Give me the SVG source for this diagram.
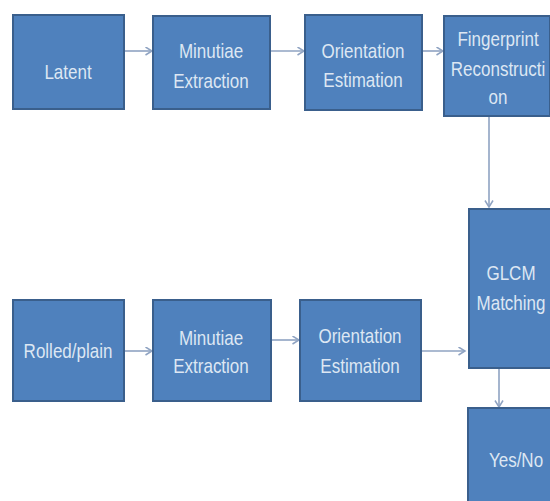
<svg xmlns="http://www.w3.org/2000/svg" width="550" height="501" viewBox="0 0 550 501">
<style>
.box{fill:#4f81bd;stroke:#3a5f8c;stroke-width:2}
.t{font-family:"Liberation Sans",Arial,sans-serif;font-size:17px;fill:#dde7f3;text-anchor:middle}
.c{stroke:#8fa3c2;stroke-width:1.6;fill:none}
</style>
<defs>
<marker id="ah" markerUnits="userSpaceOnUse" markerWidth="10" markerHeight="10" refX="7" refY="4.5" orient="auto">
<path d="M0.5,0.5 L7,4.5 L0.5,8.5" fill="none" stroke="#8fa3c2" stroke-width="1.5"/>
</marker>
</defs>
<rect width="550" height="501" fill="#ffffff"/>
<g id="connectors">
<line class="c" x1="124" y1="51" x2="152" y2="51" marker-end="url(#ah)"/>
<line class="c" x1="270" y1="51" x2="304" y2="51" marker-end="url(#ah)"/>
<line class="c" x1="422" y1="51" x2="443" y2="51" marker-end="url(#ah)"/>
<line class="c" x1="489" y1="116" x2="489" y2="207" marker-end="url(#ah)"/>
<line class="c" x1="124" y1="351" x2="152" y2="351" marker-end="url(#ah)"/>
<line class="c" x1="271" y1="340" x2="299" y2="340" marker-end="url(#ah)"/>
<line class="c" x1="421" y1="351" x2="465" y2="351" marker-end="url(#ah)"/>
<line class="c" x1="499" y1="368" x2="499" y2="407" marker-end="url(#ah)"/>
</g>
<g id="latent">
<rect class="box" x="13" y="15" width="111" height="94"/>
<text class="t" transform="translate(68,79) scale(1,1.22)">Latent</text>
</g>
<g id="minutiae1">
<rect class="box" x="153" y="16" width="117" height="93"/>
<text class="t" transform="translate(211,58) scale(1,1.22)">Minutiae</text>
<text class="t" transform="translate(211,88) scale(1,1.22)">Extraction</text>
</g>
<g id="orientation1">
<rect class="box" x="305" y="15" width="117" height="95"/>
<text class="t" transform="translate(363,58) scale(1,1.22)">Orientation</text>
<text class="t" transform="translate(363,87) scale(1,1.22)">Estimation</text>
</g>
<g id="fingerprint">
<rect class="box" x="444" y="16" width="106" height="100"/>
<text class="t" transform="translate(498,46) scale(1,1.22)">Fingerprint</text>
<text class="t" transform="translate(498,76) scale(1,1.22)">Reconstructi</text>
<text class="t" transform="translate(498,104) scale(1,1.22)">on</text>
</g>
<g id="glcm">
<rect class="box" x="469" y="209" width="90" height="159"/>
<text class="t" transform="translate(511,280) scale(1,1.22)">GLCM</text>
<text class="t" transform="translate(511,310) scale(1,1.22)">Matching</text>
</g>
<g id="rolled">
<rect class="box" x="13" y="300" width="111" height="101"/>
<text class="t" transform="translate(68,358) scale(1,1.22)">Rolled/plain</text>
</g>
<g id="minutiae2">
<rect class="box" x="153" y="300" width="118" height="101"/>
<text class="t" transform="translate(211,345) scale(1,1.22)">Minutiae</text>
<text class="t" transform="translate(211,373) scale(1,1.22)">Extraction</text>
</g>
<g id="orientation2">
<rect class="box" x="300" y="300" width="121" height="101"/>
<text class="t" transform="translate(360,343) scale(1,1.22)">Orientation</text>
<text class="t" transform="translate(360,373) scale(1,1.22)">Estimation</text>
</g>
<g id="yesno">
<rect class="box" x="468" y="408" width="90" height="100"/>
<text class="t" transform="translate(516,467) scale(1,1.22)">Yes/No</text>
</g>
</svg>
